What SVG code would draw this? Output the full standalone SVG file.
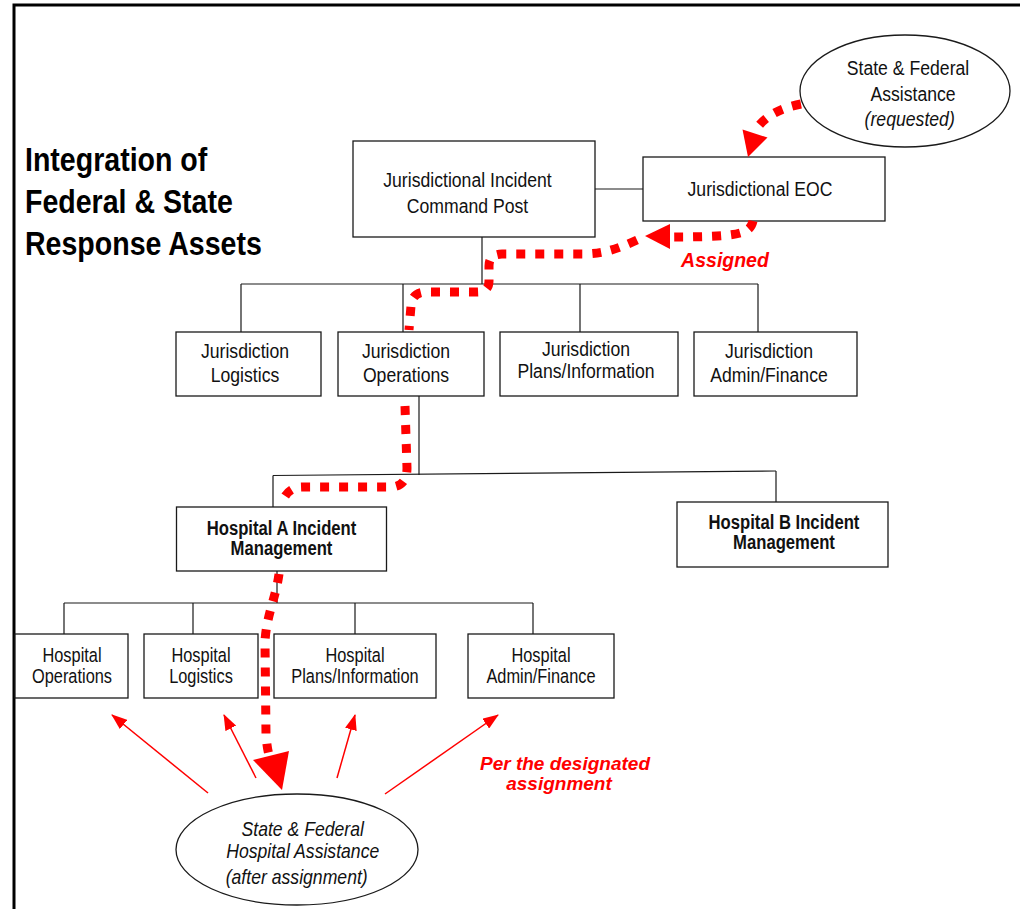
<svg xmlns="http://www.w3.org/2000/svg" width="1020" height="909" viewBox="0 0 1020 909">
  <defs>
    <style>
      .frame { fill: none; stroke: #000; stroke-width: 3; }
      .box { fill: #fff; stroke: #1a1a1a; stroke-width: 1.3; }
      .oval { fill: #fff; stroke: #1a1a1a; stroke-width: 1.3; }
      .ln { fill: none; stroke: #1a1a1a; stroke-width: 1.2; }
      .t { font-family: "Liberation Sans", Arial, sans-serif; font-size: 21px; fill: #111; text-anchor: middle; }
      .sm { font-size: 19.5px; }
      .b { font-weight: bold; }
      .i { font-style: italic; }
      .title { font-family: "Liberation Sans", Arial, sans-serif; font-size: 33px; font-weight: bold; fill: #000; }
      .rl { font-family: "Liberation Sans", Arial, sans-serif; font-style: italic; font-weight: bold; fill: #ff0000; text-anchor: middle; }
      .flow { fill: none; stroke: #ff0000; stroke-width: 9; stroke-dasharray: 9 10; }
      .ray { fill: none; stroke: #ff0000; stroke-width: 1.5; }
      .head { fill: #ff0000; stroke: none; }
    </style>
    <marker id="tip" markerUnits="userSpaceOnUse" markerWidth="16" markerHeight="12" refX="15" refY="6" orient="auto">
      <path d="M0,0 L16,6 L0,12 Z" fill="#ff0000"/>
    </marker>
  </defs>

  <rect width="1020" height="909" fill="#fff"/>
  <path class="frame" d="M14,909 L14,5 L1020,5"/>

  <!-- title -->
  <g id="title" class="title">
    <g transform="translate(25,171) scale(0.865,1)"><text x="0" y="0">Integration of</text></g>
    <g transform="translate(25,213) scale(0.865,1)"><text x="0" y="0">Federal &amp; State</text></g>
    <g transform="translate(25,255) scale(0.865,1)"><text x="0" y="0">Response Assets</text></g>
  </g>

  <!-- organisational links -->
  <g id="connectors">
    <path class="ln" d="M595,189 H643"/>
    <path class="ln" d="M482,237 V284"/>
    <path class="ln" d="M241,284 H758"/>
    <path class="ln" d="M241,284 V332 M403,284 V332 M580,284 V332 M758,284 V332"/>
    <path class="ln" d="M419,396 V475"/>
    <path class="ln" d="M273,475.5 L776,471"/>
    <path class="ln" d="M273,475.5 V507 M776,471 V502"/>
    <path class="ln" d="M277,571 V603"/>
    <path class="ln" d="M64,603 H533"/>
    <path class="ln" d="M64,603 V634 M193,603 V634 M355,603 V634 M533,603 V634"/>
  </g>

  <!-- nodes -->
  <g id="node-state-federal-assistance">
    <ellipse class="oval" cx="905" cy="91" rx="105" ry="56"/>
    <g class="t" transform="translate(908,0) scale(0.84,1)">
      <text x="0" y="75">State &amp; Federal</text>
      <text x="6" y="101">Assistance</text>
      <text class="i" x="2" y="126">(requested)</text>
    </g>
  </g>

  <g id="node-jur-command-post">
    <rect class="box" x="353" y="141" width="242" height="96"/>
    <g class="t" transform="translate(467.5,0) scale(0.84,1)">
      <text x="0" y="187">Jurisdictional Incident</text>
      <text x="0" y="213">Command Post</text>
    </g>
  </g>

  <g id="node-jur-eoc">
    <rect class="box" x="643" y="157" width="242" height="64"/>
    <g class="t" transform="translate(760,0) scale(0.84,1)">
      <text x="0" y="196.5">Jurisdictional EOC</text>
    </g>
  </g>

  <g id="node-jur-logistics">
    <rect class="box" x="176" y="332" width="145" height="64"/>
    <g class="t" transform="translate(245,0) scale(0.84,1)">
      <text x="0" y="358">Jurisdiction</text>
      <text x="0" y="382">Logistics</text>
    </g>
  </g>

  <g id="node-jur-operations">
    <rect class="box" x="338" y="332" width="146" height="64"/>
    <g class="t" transform="translate(406,0) scale(0.84,1)">
      <text x="0" y="358">Jurisdiction</text>
      <text x="0" y="382">Operations</text>
    </g>
  </g>

  <g id="node-jur-plans">
    <rect class="box" x="500" y="332" width="178" height="64"/>
    <g class="t" transform="translate(586,0) scale(0.84,1)">
      <text x="0" y="356.5">Jurisdiction</text>
      <text x="0" y="378.5">Plans/Information</text>
    </g>
  </g>

  <g id="node-jur-admin">
    <rect class="box" x="694" y="332" width="163" height="64"/>
    <g class="t" transform="translate(769,0) scale(0.84,1)">
      <text x="0" y="358">Jurisdiction</text>
      <text x="0" y="382">Admin/Finance</text>
    </g>
  </g>

  <g id="node-hosp-a">
    <rect class="box" x="176.5" y="507" width="210" height="64"/>
    <g class="t sm b" transform="translate(281.5,0) scale(0.855,1)">
      <text x="0" y="535">Hospital A Incident</text>
      <text x="0" y="555">Management</text>
    </g>
  </g>

  <g id="node-hosp-b">
    <rect class="box" x="677" y="502" width="211" height="65"/>
    <g class="t sm b" transform="translate(784,0) scale(0.855,1)">
      <text x="0" y="529">Hospital B Incident</text>
      <text x="0" y="549">Management</text>
    </g>
  </g>

  <g id="node-hosp-operations">
    <rect class="box" x="15" y="634" width="113" height="64"/>
    <g class="t sm" transform="translate(72,0) scale(0.84,1)">
      <text x="0" y="662">Hospital</text>
      <text x="0" y="683">Operations</text>
    </g>
  </g>

  <g id="node-hosp-logistics">
    <rect class="box" x="144" y="634" width="114" height="64"/>
    <g class="t sm" transform="translate(201,0) scale(0.84,1)">
      <text x="0" y="662">Hospital</text>
      <text x="0" y="683">Logistics</text>
    </g>
  </g>

  <g id="node-hosp-plans">
    <rect class="box" x="274" y="634" width="162" height="64"/>
    <g class="t sm" transform="translate(355,0) scale(0.84,1)">
      <text x="0" y="662">Hospital</text>
      <text x="0" y="683">Plans/Information</text>
    </g>
  </g>

  <g id="node-hosp-admin">
    <rect class="box" x="468" y="634" width="146" height="64"/>
    <g class="t sm" transform="translate(541,0) scale(0.84,1)">
      <text x="0" y="662">Hospital</text>
      <text x="0" y="683">Admin/Finance</text>
    </g>
  </g>

  <g id="node-hosp-assistance">
    <ellipse class="oval" cx="297" cy="849.5" rx="121" ry="55.5"/>
    <g class="t i" transform="translate(301,0) scale(0.86,1)">
      <text x="2" y="836" font-size="20.5">State &amp; Federal</text>
      <text x="2" y="858" font-size="20.5">Hospital Assistance</text>
      <text x="-5" y="884" font-size="20.5">(after assignment)</text>
    </g>
  </g>

  <!-- assistance flow -->
  <g id="flows">
    <path class="flow" d="M801,104 Q770,110 757,128"/>
    <polygon class="head" points="748,157 742.5,129.5 767.5,137.5"/>

    <path class="flow" d="M753,221 C750,234 740,237 669,237"/>
    <polygon class="head" points="645,236 670,224 670,249"/>

    <path class="flow" d="M637,240 C615,250 602,254 582,254 L502,254 Q489,254 489,266 L489,281 Q489,292 477,292 L426,292 Q412,292 411,306 L409,330"/>

    <path class="flow" d="M405,406 L407,468 Q407,487 390,487 L302,487 Q289,487 283,500"/>

    <path class="flow" d="M279,574 C276,597 266,617 265,642 L266,735 Q267,748 269,755"/>
    <polygon class="head" points="282,790 253,760 289,751"/>

    <path class="ray" d="M208,793 L112,715" marker-end="url(#tip)"/>
    <path class="ray" d="M256,778 L224,715" marker-end="url(#tip)"/>
    <path class="ray" d="M337,778 L355,715" marker-end="url(#tip)"/>
    <path class="ray" d="M385,794 L498,715" marker-end="url(#tip)"/>
  </g>

  <g id="flow-labels">
    <text class="rl" x="725" y="267" font-size="19.5">Assigned</text>
    <text class="rl" x="565" y="770" font-size="19">Per the designated</text>
    <text class="rl" x="559" y="790" font-size="19">assignment</text>
  </g>
</svg>
